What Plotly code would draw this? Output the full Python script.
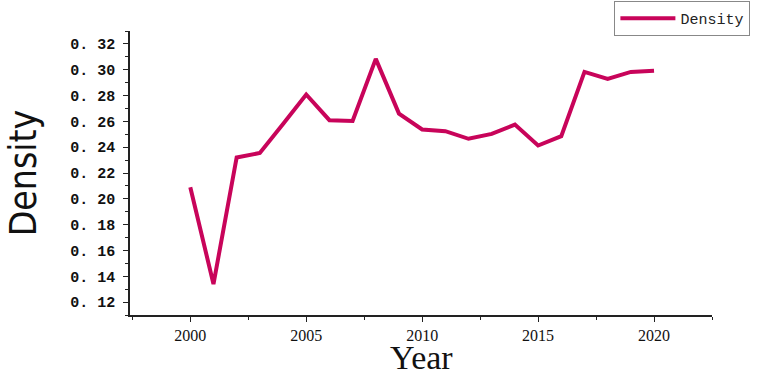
import plotly.graph_objects as go

years = list(range(2000, 2021))
density = [0.209, 0.134, 0.232, 0.2355, 0.258, 0.2808, 0.2609, 0.2603, 0.3084,
           0.266, 0.2537, 0.2524, 0.2465, 0.2503, 0.2575, 0.2413, 0.2485,
           0.2983, 0.2929, 0.2983, 0.2993]
y_ticks = [0.12, 0.14, 0.16, 0.18, 0.20, 0.22, 0.24, 0.26, 0.28, 0.30, 0.32]
y_ticktext = ["0. 12", "0. 14", "0. 16", "0. 18", "0. 20", "0. 22", "0. 24",
              "0. 26", "0. 28", "0. 30", "0. 32"]
x_ticks = [2000, 2005, 2010, 2015, 2020]

fig = go.Figure()
fig.add_trace(go.Scatter(x=years, y=density, mode="lines", name="Density",
                         line=dict(color="#C8045A", width=4)))

fig.update_layout(
    width=768, height=373,
    margin=dict(l=130, r=56, t=31, b=58, autoexpand=False),
    paper_bgcolor="white", plot_bgcolor="white",
    showlegend=True,
    legend=dict(xref="container", yref="container", x=0.8, y=0.997,
                xanchor="left", yanchor="top",
                bordercolor="#888888", borderwidth=1,
                font=dict(family="Liberation Mono", size=15, color="#222"),
                bgcolor="white", tracegroupgap=0, itemwidth=55),
    xaxis=dict(range=[1997.4, 2022.5], tickvals=x_ticks, showgrid=False,
               zeroline=False, showline=True, linecolor="#222", linewidth=1.5,
               ticks="outside", ticklen=5, tickcolor="#222", automargin=False,
               minor=dict(dtick=2.5, tick0=2000, ticks="outside", ticklen=3, tickcolor="#222"),
               tickfont=dict(family="Liberation Serif", size=16, color="#111")),
    yaxis=dict(range=[0.11, 0.33], tickvals=y_ticks, ticktext=y_ticktext, showgrid=False,
               zeroline=False, showline=True, linecolor="#222", linewidth=1.5,
               ticks="outside", ticklen=5, tickcolor="#222", automargin=False,
               ticklabelstandoff=5,
               minor=dict(dtick=0.01, tick0=0.12, ticks="outside", ticklen=3, tickcolor="#222"),
               tickfont=dict(family="Liberation Mono", size=15, color="#111", weight="bold"),
               title=dict(text="Density", font=dict(family="DejaVu Sans Condensed, Liberation Sans", size=37, color="#111"),
                          standoff=22)),
    annotations=[dict(text="Year", xref="paper", yref="paper", x=0.5, y=-0.08,
                      xanchor="center", yanchor="top", showarrow=False, borderpad=0,
                      font=dict(family="Liberation Serif", size=34, color="#111"))],
)

fig.write_html("out.html", config={"displayModeBar": False},
               post_script="document.body.style.margin='0px';")
